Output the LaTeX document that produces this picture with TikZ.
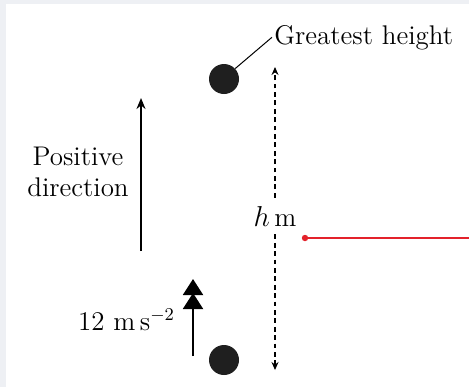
\documentclass[tikz,border=0pt]{standalone}
\usepackage{tikz}
\usetikzlibrary{arrows.meta}
\definecolor{bgGrey}{HTML}{EEF0F4}
\definecolor{lineRed}{HTML}{E3222B}
\tikzset{
  ball/.style={circle, fill=black!88, inner sep=0pt, minimum size=15pt},
  upArrow/.style={line width=1pt, -{Stealth[length=5.5pt,width=4.5pt]}},
  hArrow/.style={line width=0.65pt, dash pattern=on 2.4pt off 1.8pt, -{Stealth[length=4pt,width=3.5pt]}}
}
\begin{document}
\begin{tikzpicture}[x=0.5pt, y=-0.5pt, font=\fontsize{13.5}{15.5}\selectfont, line join=round, >=Stealth]
  \useasboundingbox (0,0) rectangle (469,387);
  \fill[bgGrey] (0,0) rectangle (469,387);
  \fill[white] (6,4) rectangle (469,387);
  % the two positions of the ball
  \foreach \n/\y in {top/79, bot/360}
    \node[ball] (\n) at (224,\y) {};
  \node[anchor=base west, inner sep=1pt] (gh) at (272,44) {Greatest height};
  \draw[line width=0.5pt] (top.43) -- (gh.west);
  % height h
  \coordinate (hTop) at (275,67);
  \coordinate (hBot) at (275,370);
  \node[inner sep=4pt] (hlab) at (275,216) {$h$\,m};
  \draw[hArrow] (hlab.north) -- (hTop);
  \draw[hArrow] (hlab.south) -- (hBot);
  % positive direction
  \coordinate (pBot) at (141,251);
  \coordinate (pTop) at (141,98);
  \draw[upArrow] (pBot) -- (pTop);
  \node[align=center] (pos) at (78,172) {Positive\\direction};
  % acceleration
  \coordinate (aBot) at (193,356);
  \coordinate (aTop) at (193,279);
  \draw[line width=1pt, -{Triangle[length=8pt,width=10pt,sep=-1pt]Triangle[length=8pt,width=10pt]}] (aBot) -- (aTop);
  \node[anchor=east] (acc) at (182,320) {12 m\,s$^{-2}$};
  % red line
  \node[circle, fill=lineRed, inner sep=0pt, minimum size=3.2pt] (rd) at (305,238) {};
  \coordinate (rEnd) at (469,238);
  \draw[lineRed, line width=0.9pt] (rd.center) -- (rEnd);
\end{tikzpicture}
\end{document}
